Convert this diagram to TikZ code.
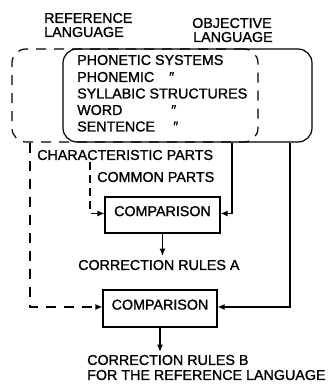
\documentclass[tikz,border=0pt]{standalone}
\usepackage{fontspec}
\setmainfont[FakeBold=1.2]{Liberation Sans}
\usetikzlibrary{arrows.meta}
\begin{document}
\begin{tikzpicture}[x=1pt,y=-1pt,
  every node/.style={font=\fontsize{14.3}{16}\selectfont, inner sep=0pt},
  lbl/.style={anchor=west},
  ditto/.style={anchor=west},
  langbox/.style={draw, line width=1.2pt, rounded corners=14pt, minimum height=93pt},
  cmpbox/.style={draw, line width=1.1pt, minimum width=115pt, minimum height=36pt,
    text height=10.2pt, text depth=8pt},
  wire/.style={line width=1.2pt},
  dashwire/.style={line width=1.2pt, dash pattern=on 10pt off 8pt},
  arr/.style={-{Latex[length=7pt,width=6pt]}},
]
\useasboundingbox (0,0) rectangle (330,385);

% columns of the vertical connectors
\coordinate (xa) at (30,0);
\coordinate (xc) at (232,0);
\coordinate (xd) at (290,0);
\coordinate (cp) at (90,162);

% language regions
\node[langbox, dashed, dash pattern=on 10pt off 8pt, minimum width=246pt] (ref) at (135,95.5) {};
\node[langbox, minimum width=249pt] (obj) at (187.5,95.5) {};

% region titles
\node[lbl] (refA) at (44,18) {REFERENCE};
\node[lbl] (refB) at (44,32) {LANGUAGE};
\node[lbl] (objA) at (192,23) {OBJECTIVE};
\node[lbl] (objB) at (193,37) {LANGUAGE};

% levels of comparison
\node[lbl] (l1) at (77,60) {PHONETIC SYSTEMS};
\node[lbl] (l2) at (77,77) {PHONEMIC};
\node[ditto] (d2) at (169,77) {″};
\node[lbl] (l3) at (77,93.5) {SYLLABIC STRUCTURES};
\node[lbl] (l4) at (77,110) {WORD};
\node[ditto] (d4) at (171,110) {″};
\node[lbl] (l5) at (77,126.5) {SENTENCE};
\node[ditto] (d5) at (173,126.5) {″};

% part labels
\node[lbl] (charp) at (37,155) {CHARACTERISTIC PARTS};
\node[lbl] (commp) at (97,177) {COMMON PARTS};

% comparison stages
\node[cmpbox] (cmp1) at (162.5,215) {COMPARISON};
\node[lbl] (ruleA) at (78,265) {CORRECTION RULES A};
\node[cmpbox, minimum width=114pt, minimum height=37pt] (cmp2) at (160,308.5) {COMPARISON};
\node[lbl] (ruleB1) at (87,360) {CORRECTION RULES B};
\node[lbl] (ruleB2) at (87,375) {FOR THE REFERENCE LANGUAGE};

% connectors
\draw[wire, dash pattern=on 8pt off 5pt, arr] (cp) |- (cmp1.mid west);
\draw[wire, arr] (obj.south -| xc) |- (cmp1.mid east);
\draw[wire, arr, shorten >=4pt] (cmp1.south) -- (cmp1.south |- ruleA.north);
\draw[dashwire, arr] (ref.south -| xa) |- (cmp2.mid west);
\draw[wire, arr] (obj.south -| xd) |- (cmp2.mid east);
\draw[wire, arr, shorten >=3pt] (cmp2.south) -- (cmp2.south |- ruleB1.north);
\end{tikzpicture}
\end{document}
